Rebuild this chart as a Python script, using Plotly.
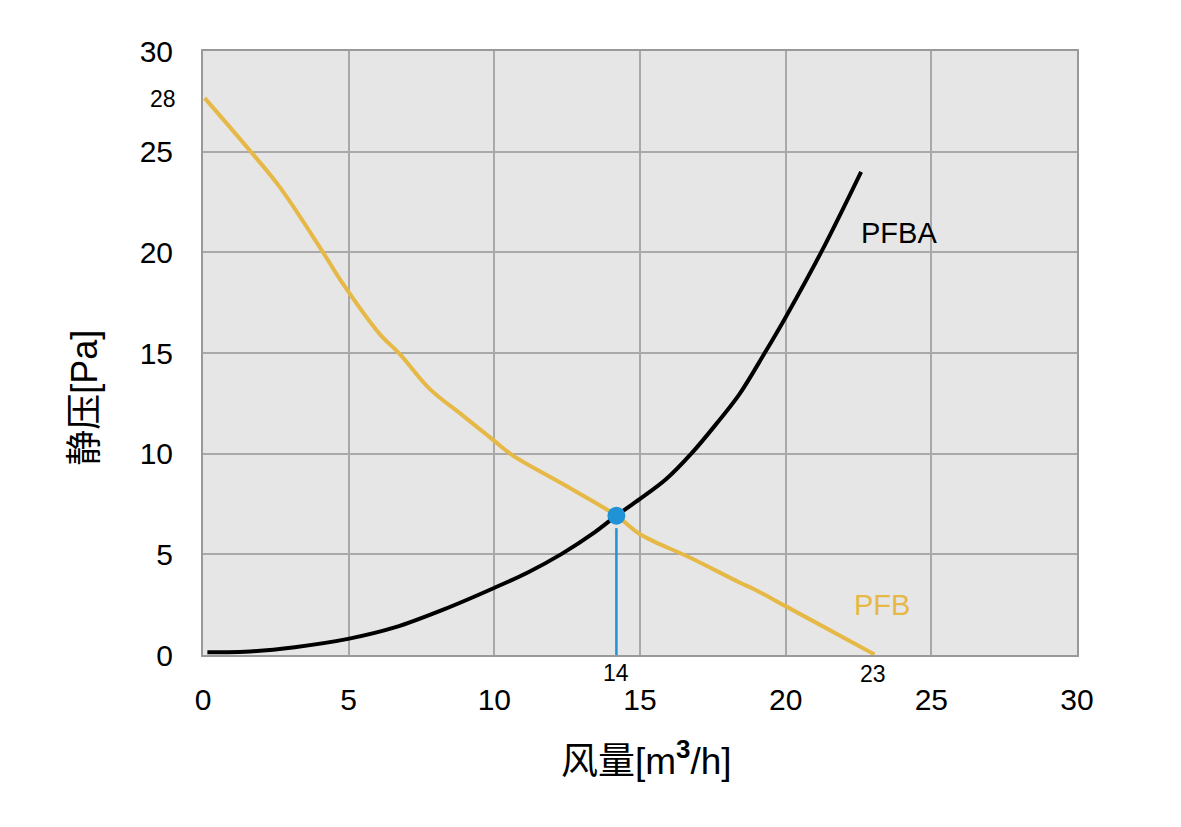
import plotly.graph_objects as go

# 风量 [m3/h] vs 静压 [Pa]
pfb_x = [0.06, 1.6, 2.63, 4.12, 4.8, 6.06, 6.75, 7.78, 8.92, 9.99, 10.64, 12.35,
         14.19, 15.0, 16.71, 18.42, 18.9, 19.98, 23.05]
pfb_y = [27.66, 25.07, 23.25, 20.0, 18.44, 15.95, 14.96, 13.22, 11.89, 10.65, 9.9, 8.49,
         6.92, 6.0, 4.84, 3.6, 3.28, 2.44, 0.03]

pfba_x = [0.15, 1.43, 3.15, 4.98, 6.58, 8.29, 9.99, 11.15, 12.3, 13.44, 14.19,
          15.0, 15.9, 16.76, 17.62, 18.42, 19.28, 20.0, 21.22, 22.59]
pfba_y = [0.14, 0.16, 0.39, 0.8, 1.37, 2.28, 3.33, 4.1, 5.01, 6.09, 6.92,
          7.75, 8.74, 10.0, 11.48, 12.97, 15.0, 16.78, 20.01, 24.0]

op_x = 14.19
op_y = 6.92
drop_y = [0, 6.3]

tick_vals = [0, 5, 10, 15, 20, 25, 30]

FONT = "Liberation Sans, Arial, Noto Sans CJK SC"
GOLD = "#E6B845"
BLUE = "#1F93D6"

fig = go.Figure()

fig.add_trace(go.Scatter(
    x=pfb_x, y=pfb_y, mode="lines",
    line=dict(color=GOLD, width=4, shape="spline", smoothing=1.0),
    hoverinfo="skip",
))
fig.add_trace(go.Scatter(
    x=pfba_x, y=pfba_y, mode="lines",
    line=dict(color="#000000", width=4, shape="spline", smoothing=1.0),
    hoverinfo="skip",
))
fig.add_trace(go.Scatter(
    x=[op_x, op_x], y=drop_y, mode="lines",
    line=dict(color=BLUE, width=2.5),
    hoverinfo="skip",
))
fig.add_trace(go.Scatter(
    x=[op_x], y=[op_y], mode="markers",
    marker=dict(color=BLUE, size=18),
    hoverinfo="skip",
))

# curve names and marked values
fig.add_annotation(x=22.5, y=20.95, text="PFBA", showarrow=False, xanchor="left",
                   font=dict(size=29, color="#000000"))
fig.add_annotation(x=22.28, y=2.5, text="PFB", showarrow=False, xanchor="left",
                   font=dict(size=29, color=GOLD))
fig.add_annotation(x=op_x, y=0, yshift=-18, text="14", showarrow=False,
                   font=dict(size=23, color="#000000"))
fig.add_annotation(x=23, y=0, yshift=-19, text="23", showarrow=False,
                   font=dict(size=23, color="#000000"))
fig.add_annotation(x=0, y=27.6, xshift=-25, text="28", showarrow=False, xanchor="right",
                   font=dict(size=23, color="#000000"))

# axis titles (placed as in the original, slightly off centre)
fig.add_annotation(xref="paper", yref="paper", x=0.508, y=-0.172,
                   xanchor="center", yanchor="middle",
                   text="风量[m<sup><b>3</b></sup>/h]", showarrow=False,
                   font=dict(size=37, color="#000000"))
fig.add_annotation(xref="paper", yref="paper", x=-0.135, y=0.426,
                   xanchor="center", yanchor="middle",
                   text="静压[Pa]", showarrow=False, textangle=-90,
                   font=dict(size=36, color="#000000"))

fig.update_layout(
    width=1181, height=827,
    margin=dict(l=195, r=112, t=43, b=180),
    paper_bgcolor="white",
    plot_bgcolor="#E6E6E6",
    showlegend=False,
    font=dict(family=FONT, color="#000000"),
    xaxis=dict(
        range=[0, 30], tickvals=tick_vals, ticks="",
        tickfont=dict(size=30), ticklabelstandoff=17,
        showgrid=True, gridcolor="#A9A9A9", gridwidth=1.5,
        zeroline=False, showline=True, linecolor="#999999", linewidth=2, mirror=True,
    ),
    yaxis=dict(
        range=[0, 30], tickvals=tick_vals, ticks="",
        tickfont=dict(size=30), ticklabelstandoff=22,
        showgrid=True, gridcolor="#A9A9A9", gridwidth=1.5,
        zeroline=False, showline=True, linecolor="#999999", linewidth=2, mirror=True,
    ),
)

fig.write_html("out.html")
